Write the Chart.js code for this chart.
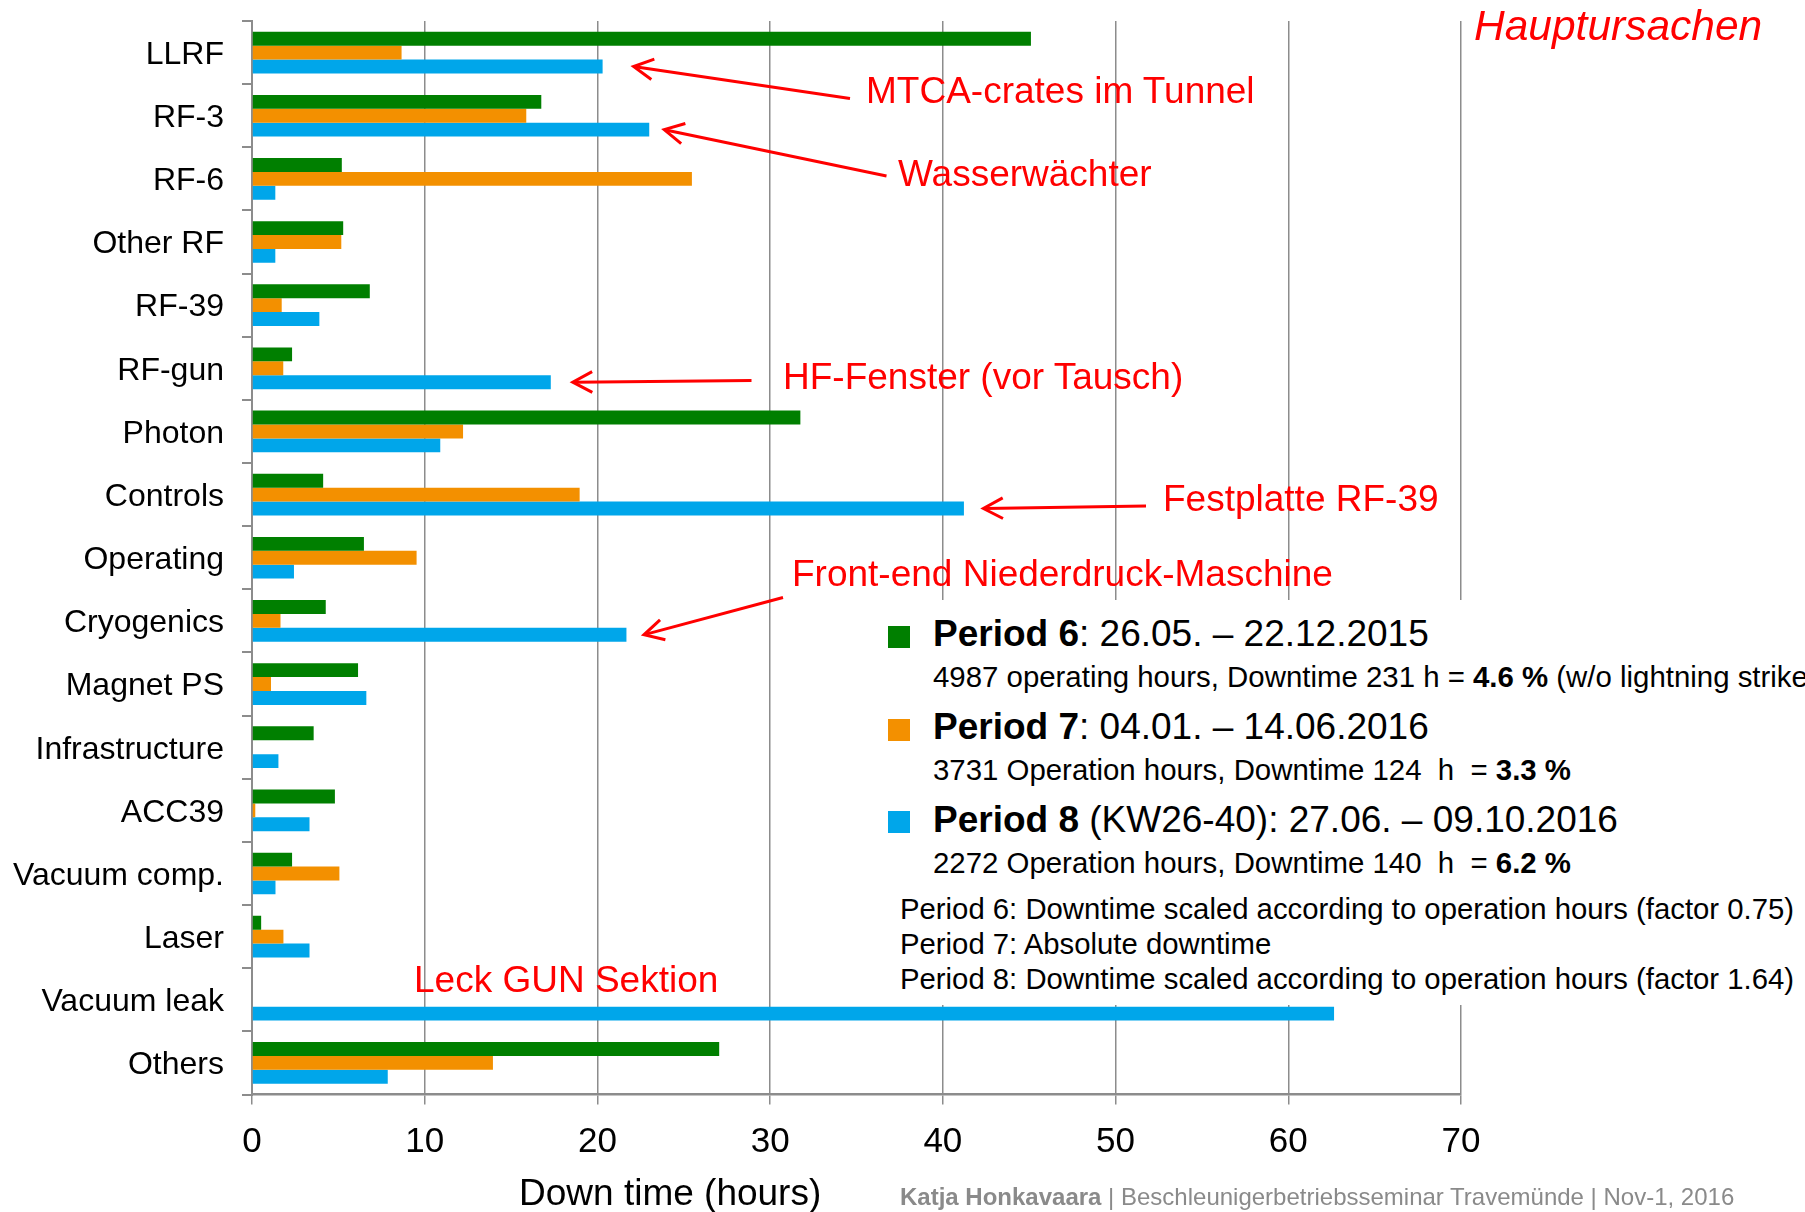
<!DOCTYPE html>
<html>
<head>
<meta charset="utf-8">
<title>Downtime by subsystem</title>
<script src="https://cdn.jsdelivr.net/npm/chart.js@4.4.1/dist/chart.umd.min.js"></script>
<style>
  html, body { margin: 0; padding: 0; background: #fff; }
  #wrap { position: relative; width: 1805px; height: 1212px; overflow: hidden;
          font-family: "Liberation Sans", Arial, sans-serif; color: #000; }
  #chart { position: absolute; left: 0; top: 0; }
  .t { position: absolute; white-space: pre; line-height: 1; }
  .red { color: #ff0000; }
  #legendBox { position: absolute; left: 880px; top: 600px; width: 925px; height: 405px; background: #fff; }
  .sq { position: absolute; width: 22px; height: 22px; }
</style>
</head>
<body>
<div id="wrap">
  <canvas id="chart" width="1805" height="1212"></canvas>
  <div id="legendBox"></div>
</div>
<script>
// Subsystems (top to bottom)
const categories = ['LLRF', 'RF-3', 'RF-6', 'Other RF', 'RF-39', 'RF-gun', 'Photon', 'Controls',
  'Operating', 'Cryogenics', 'Magnet PS', 'Infrastructure', 'ACC39', 'Vacuum comp.', 'Laser',
  'Vacuum leak', 'Others'];

// Down time in hours per period
const seriesNames = ['Period 6', 'Period 7', 'Period 8'];
const period6 = [45.1, 16.75, 5.2, 5.28, 6.82, 2.32, 31.75, 4.12, 6.48, 4.27, 6.14, 3.57, 4.8, 2.32, 0.53, 0, 27.05];
const period7 = [8.66, 15.88, 25.47, 5.17, 1.72, 1.81, 12.22, 18.97, 9.53, 1.65, 1.1, 0, 0.19, 5.06, 1.82, 0, 13.95];
const period8 = [20.3, 23.0, 1.35, 1.35, 3.9, 17.3, 10.9, 41.22, 2.43, 21.68, 6.62, 1.53, 3.33, 1.36, 3.33, 62.65, 7.86];

// Value axis ticks
const xTicks = [0, 10, 20, 30, 40, 50, 60, 70];

const seriesColors = ['#007f00', '#f39000', '#00a6ea'];
const FONT = '"Liberation Sans", Arial, sans-serif';
const GRID = '#8c8c8c';

// Red call-outs pointing at individual bars
const callouts = [
  { cat: 'LLRF',       series: 2, gap: 31,   tail: [850, 98.5] },
  { cat: 'RF-3',       series: 2, gap: 15,   tail: [886.5, 176] },
  { cat: 'RF-gun',     series: 2, gap: 22,   tail: [751.5, 380.5] },
  { cat: 'Controls',   series: 2, gap: 19.5, tail: [1146, 506] },
  { cat: 'Cryogenics', series: 2, gap: 17.5, tail: [783, 597.5] }
];

const arrowPlugin = {
  id: 'calloutArrows',
  afterDraw(chart) {
    const ctx = chart.ctx;
    ctx.save();
    ctx.strokeStyle = '#ff0000';
    ctx.lineWidth = 3;
    ctx.lineCap = 'butt';
    ctx.lineJoin = 'miter';
    callouts.forEach(c => {
      const el = chart.getDatasetMeta(c.series).data[categories.indexOf(c.cat)];
      const tip = [el.x + c.gap, el.y];
      const [tx, ty] = c.tail;
      const ang = Math.atan2(ty - tip[1], tx - tip[0]);
      const len = 22, spread = 28 * Math.PI / 180;
      ctx.beginPath();
      ctx.moveTo(tx, ty);
      ctx.lineTo(tip[0] + 1.5 * Math.cos(ang), tip[1] + 1.5 * Math.sin(ang));
      ctx.stroke();
      ctx.beginPath();
      ctx.moveTo(tip[0] + len * Math.cos(ang - spread), tip[1] + len * Math.sin(ang - spread));
      ctx.lineTo(tip[0], tip[1]);
      ctx.lineTo(tip[0] + len * Math.cos(ang + spread), tip[1] + len * Math.sin(ang + spread));
      ctx.stroke();
    });
    ctx.restore();
  }
};

new Chart(document.getElementById('chart'), {
  type: 'bar',
  data: {
    labels: categories,
    datasets: [period6, period7, period8].map((d, i) => ({
      label: seriesNames[i],
      data: d,
      backgroundColor: seriesColors[i],
      borderWidth: 0
    }))
  },
  options: {
    indexAxis: 'y',
    responsive: false,
    animation: false,
    devicePixelRatio: 1,
    layout: { padding: { top: 21, right: 344, left: 0, bottom: 0 } },
    datasets: { bar: { categoryPercentage: 0.66, barPercentage: 1.0 } },
    plugins: { legend: { display: false }, tooltip: { enabled: false } },
    scales: {
      x: {
        type: 'linear', position: 'bottom', min: 0, max: 70,
        afterBuildTicks: s => { s.ticks = xTicks.map(v => ({ value: v })); },
        ticks: { font: { size: 35, family: FONT }, color: '#000', padding: 17 },
        grid: { color: GRID, lineWidth: 1.5, tickLength: 10 },
        border: { color: GRID, width: 2.5 },
        afterFit: s => { s.height = 117.5; s.paddingLeft = 0; s.paddingRight = 0; }
      },
      y: {
        ticks: { font: { size: 32, family: FONT }, color: '#000', padding: 18, labelOffset: 2.5 },
        grid: { offset: true, drawOnChartArea: false, color: GRID, lineWidth: 2, tickLength: 10 },
        border: { color: GRID, width: 2 },
        afterFit: s => { s.width = 252; s.paddingTop = 0; s.paddingBottom = 0; }
      }
    }
  },
  plugins: [arrowPlugin]
});

// Text blocks placed by their baseline
const wrap = document.getElementById('wrap');
function addText(html, x, baseline, size, cls, extra) {
  const d = document.createElement('div');
  d.className = 't' + (cls ? ' ' + cls : '');
  d.innerHTML = html;
  d.style.left = x + 'px';
  d.style.top = (baseline - 0.8465 * size) + 'px';
  d.style.fontSize = size + 'px';
  if (extra) Object.assign(d.style, extra);
  wrap.appendChild(d);
}

// Call-out labels
addText('Hauptursachen', 1474, 41, 42.5, 'red', { fontStyle: 'italic' });
addText('MTCA-crates im Tunnel', 866, 103, 37, 'red');
addText('Wasserwächter', 898, 186, 37, 'red');
addText('HF-Fenster (vor Tausch)', 783, 389, 37, 'red');
addText('Festplatte RF-39', 1163, 511, 37, 'red');
addText('Front-end Niederdruck-Maschine', 792, 586, 37, 'red');
addText('Leck GUN Sektion', 414, 992, 37, 'red');

// Legend with period summaries
const periodDates = [': 26.05. – 22.12.2015', ': 04.01. – 14.06.2016', ' (KW26-40): 27.06. – 09.10.2016'];
const periodInfo = [
  '4987 operating hours, Downtime 231 h = <b>4.6 %</b> (w/o lightning strike)',
  '3731 Operation hours, Downtime 124  h  = <b>3.3 %</b>',
  '2272 Operation hours, Downtime 140  h  = <b>6.2 %</b>'
];
seriesNames.forEach((name, i) => {
  const base = 646.7 + i * 92.6;
  const sq = document.createElement('div');
  sq.className = 'sq';
  sq.style.left = '888px';
  sq.style.top = (base - 20.5) + 'px';
  sq.style.background = seriesColors[i];
  wrap.appendChild(sq);
  addText('<b>' + name + '</b>' + periodDates[i], 933, base, 37);
  addText(periodInfo[i], 933, base + 40.6, 29.4);
});
addText('Period 6: Downtime scaled according to operation hours (factor 0.75)', 900, 918.5, 29.3);
addText('Period 7: Absolute downtime', 900, 953.5, 29.3);
addText('Period 8: Downtime scaled according to operation hours (factor 1.64)', 900, 988.5, 29.3);

// Axis title and footer
addText('Down time (hours)', 519, 1205, 37);
addText('<b>Katja Honkavaara</b> | Beschleunigerbetriebsseminar Travemünde | Nov-1, 2016', 900, 1205, 24, '', { color: '#8a8a8a' });
</script>
</body>
</html>
